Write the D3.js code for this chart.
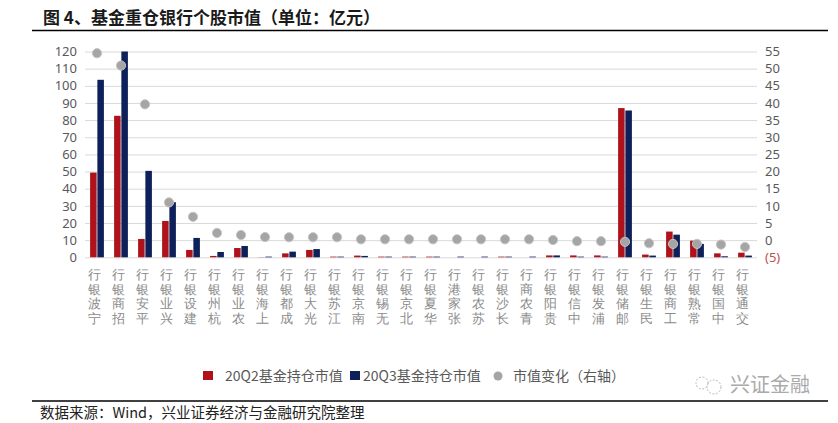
<!DOCTYPE html>
<html>
<head>
<meta charset="utf-8">
<script src="https://cdn.jsdelivr.net/npm/d3@7"></script>
<style>
  body { margin: 0; background: #fff; }
  svg { display: block; font-family: "Noto Sans CJK SC", "Noto Sans", sans-serif; }
</style>
</head>
<body>
<div id="chart"></div>
<script>
// data
const categories = ['宁波银行', '招商银行', '平安银行', '兴业银行', '建设银行', '杭州银行', '农业银行',
    '上海银行', '成都银行', '光大银行', '江苏银行', '南京银行', '无锡银行', '北京银行', '华夏银行',
    '张家港行', '苏农银行', '长沙银行', '青农商行', '贵阳银行', '中信银行', '浦发银行', '邮储银行',
    '民生银行', '工商银行', '常熟银行', '中国银行', '交通银行'];
const q2Values = [49.4, 82.5, 10.7, 21.2, 4.3, 0.8, 5.4, 0.1, 2.3, 4.3, 0.4, 1.0, 0.4, 0.4, 0.4,
    0.0, 0.0, 0.4, 0.0, 1.1, 1.1, 1.1, 87.0, 1.6, 15.0, 9.7, 2.3, 2.7];
const q3Values = [103.5, 120.0, 50.4, 32.1, 11.3, 3.1, 6.6, 0.4, 3.3, 4.8, 0.4, 0.8, 0.4, 0.4, 0.4,
    0.4, 0.4, 0.4, 0.4, 1.1, 0.4, 0.4, 85.6, 1.0, 13.2, 7.8, 0.6, 1.0];
const changeValues = [54.5, 50.9, 39.6, 11.0, 6.8, 2.1, 1.5, 0.9, 0.85, 0.85, 0.85, 0.25, 0.25, 0.25, 0.25,
    0.25, 0.25, 0.25, 0.25, 0.05, -0.3, -0.3, -0.5, -0.9, -1.1, -1.1, -1.3, -2.0];
const leftTicks = [0, 10, 20, 30, 40, 50, 60, 70, 80, 90, 100, 110, 120];
const rightTicks = [-5, 0, 5, 10, 15, 20, 25, 30, 35, 40, 45, 50, 55];
const seriesNames = ['20Q2基金持仓市值', '20Q3基金持仓市值', '市值变化（右轴）'];

const width = 838, height = 423;
const plot = { left: 85, right: 757, top: 51.5, bottom: 257.3 };
const colors = { q2: '#b0121b', q3: '#0d2059', dot: '#a5a5a5', grid: '#d9d9d9', text: '#595959' };

const svg = d3.select('#chart').append('svg')
    .attr('width', width)
    .attr('height', height);

svg.append('rect').attr('width', width).attr('height', height).attr('fill', '#fff');

// title + rules
svg.append('text')
    .attr('x', 43).attr('y', 24)
    .attr('font-size', 17).attr('font-weight', 'bold').attr('fill', '#1a1a1a')
    .text('图 4、基金重仓银行个股市值（单位：亿元）');
svg.append('line').attr('x1', 32).attr('x2', 828).attr('y1', 30.5).attr('y2', 30.5)
    .attr('stroke', '#000').attr('stroke-width', 1.3);
svg.append('line').attr('x1', 32).attr('x2', 828).attr('y1', 401).attr('y2', 401)
    .attr('stroke', '#000').attr('stroke-width', 1.3);
svg.append('text')
    .attr('x', 40).attr('y', 418)
    .attr('font-size', 14.5).attr('fill', '#222')
    .text('数据来源：Wind，兴业证券经济与金融研究院整理');

// scales
const x = d3.scaleBand().domain(categories).range([plot.left, plot.right]).padding(0);
const xSub = d3.scaleBand().domain(['q2', 'q3']).range([-6.9, 6.9]).paddingInner(0.1);
const yLeft = d3.scaleLinear().domain([0, 120]).range([plot.bottom, plot.top]);
const yRight = d3.scaleLinear().domain([-5, 55]).range([plot.bottom, plot.top]);

// grid + left axis
const leftAxis = svg.append('g')
    .attr('transform', `translate(${plot.left},0)`)
    .call(d3.axisLeft(yLeft).tickValues(leftTicks).tickSize(-(plot.right - plot.left)).tickPadding(8));
leftAxis.select('.domain').remove();
leftAxis.selectAll('line').attr('stroke', colors.grid);
leftAxis.selectAll('text').attr('font-size', 13).attr('fill', colors.text)
    .attr('font-family', 'Noto Sans, sans-serif');

const rightAxis = svg.append('g')
    .attr('transform', `translate(${plot.right},0)`)
    .call(d3.axisRight(yRight).tickValues(rightTicks).tickSize(0).tickPadding(8)
        .tickFormat(d => d < 0 ? `(${-d})` : d));
rightAxis.select('.domain').remove();
rightAxis.selectAll('text').attr('font-size', 13)
    .attr('font-family', 'Noto Sans, sans-serif')
    .attr('fill', d => d < 0 ? '#c0504d' : colors.text);

// bars
const rows = categories.map((c, i) => ({ name: c, q2: q2Values[i], q3: q3Values[i], change: changeValues[i] }));
const groups = svg.append('g').selectAll('g')
    .data(rows)
    .enter().append('g')
    .attr('transform', d => `translate(${x(d.name) + x.bandwidth() / 2},0)`);

groups.selectAll('rect')
    .data(d => ['q2', 'q3'].map(k => ({ key: k, value: d[k] })))
    .enter().append('rect')
    .attr('x', d => xSub(d.key))
    .attr('width', xSub.bandwidth())
    .attr('y', d => yLeft(d.value))
    .attr('height', d => yLeft(0) - yLeft(d.value))
    .attr('fill', d => colors[d.key]);

// dots (right axis)
svg.append('g').selectAll('circle')
    .data(rows)
    .enter().append('circle')
    .attr('cx', d => x(d.name) + x.bandwidth() / 2)
    .attr('cy', d => yRight(d.change))
    .attr('r', 4.6)
    .attr('fill', colors.dot)
    .attr('stroke', '#c4c4c4')
    .attr('stroke-width', 1);

// category labels, stacked characters reading bottom to top
const xAxis = svg.append('g')
    .attr('transform', `translate(0,${plot.bottom})`)
    .call(d3.axisBottom(x).tickSize(0).tickFormat(''));
xAxis.select('.domain').remove();
xAxis.selectAll('.tick').append('text')
    .attr('x', -3)
    .attr('font-size', 13)
    .attr('fill', '#8a8a8a')
    .attr('text-anchor', 'middle')
    .selectAll('tspan')
    .data(d => d.split('').reverse())
    .enter().append('tspan')
    .attr('x', -3)
    .attr('y', (d, i) => 22 + i * 14.5)
    .text(d => d);

// legend
const legend = svg.append('g').attr('font-size', 14).attr('fill', colors.text);
legend.append('rect').attr('x', 203).attr('y', 371).attr('width', 10).attr('height', 9).attr('fill', colors.q2);
legend.append('text').attr('x', 225).attr('y', 381).attr('fill', colors.text).text(seriesNames[0]);
legend.append('rect').attr('x', 350).attr('y', 371).attr('width', 10).attr('height', 9).attr('fill', colors.q3);
legend.append('text').attr('x', 363).attr('y', 381).attr('fill', colors.text).text(seriesNames[1]);
legend.append('circle').attr('cx', 498).attr('cy', 376).attr('r', 4.5).attr('fill', colors.dot);
legend.append('text').attr('x', 513).attr('y', 381).attr('fill', colors.text).text(seriesNames[2]);

// watermark
const mark = svg.append('g').attr('fill', 'none').attr('stroke', '#bbb').attr('stroke-dasharray', '2,1.5');
mark.append('circle').attr('cx', 702).attr('cy', 383).attr('r', 6);
mark.append('circle').attr('cx', 714).attr('cy', 387).attr('r', 7);
svg.append('text').attr('x', 730).attr('y', 392)
    .attr('font-size', 20).attr('fill', '#aaa')
    .text('兴证金融');
</script>
</body>
</html>
